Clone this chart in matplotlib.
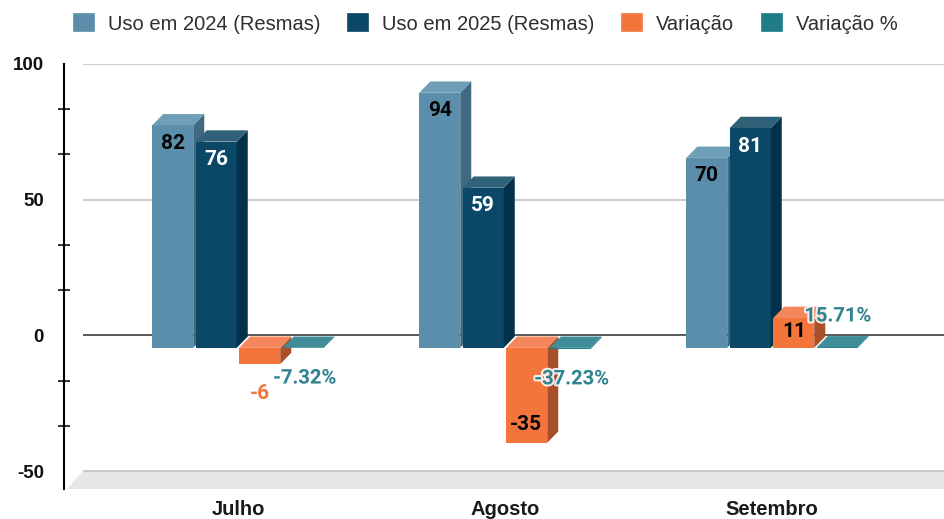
import matplotlib
matplotlib.use("Agg")
import matplotlib.pyplot as plt
from matplotlib.patches import Patch, Polygon
from matplotlib.ticker import FixedLocator
import matplotlib.patheffects as pe

# ---- data ----
months = ["Julho", "Agosto", "Setembro"]
uso_2024 = [82, 94, 70]
uso_2025 = [76, 59, 81]
variacao = [-6, -35, 11]
variacao_pct = [-7.32, -37.23, 15.71]
series_names = ["Uso em 2024 (Resmas)", "Uso em 2025 (Resmas)", "Variação", "Variação %"]
major_ticks = [-50, 0, 50, 100]
minor_ticks = [-33.33, -16.67, 16.67, 33.33, 66.67, 83.33]

# ---- layout / style ----
W, H = 944, 519
fig = plt.figure(figsize=(W / 100, H / 100), dpi=100, facecolor="white")
ax = fig.add_axes([64 / W, (H - 489) / H, (W - 64) / W, (489 - 64) / H])
PX_PER_CAT = 267.0
PX_PER_UNIT = 407 / 150
ax.set_xlim((64 - 238) / PX_PER_CAT, (944 - 238) / PX_PER_CAT)
ax.set_ylim(-50 - 18 / PX_PER_UNIT, 100)

WALL_X = (83 - 238) / PX_PER_CAT
DX = 11 / PX_PER_CAT
DY = 11.3 / PX_PER_UNIT
BASE = -12.5 / PX_PER_UNIT
BAR_W = 41 / PX_PER_CAT
STEP = 43.5 / PX_PER_CAT
XR = ax.get_xlim()[1]
YB = ax.get_ylim()[0]

front = ["#5a8eaa", "#0b4766", "#f4753c", "#1f7c88"]
side = ["#3f6a82", "#03304a", "#a9502a", "#2e7480"]
top = ["#6f9fb6", "#2f6279", "#f5855a", "#3f8d98"]

# floor and grid
ax.add_patch(Polygon([(XR, YB), ((67 - 238) / PX_PER_CAT, YB), (WALL_X, -50), (XR, -50)],
                     closed=True, fc="#e6e7e6", ec="none", zorder=1))
for g in [100, 50, -50]:
    ax.plot([WALL_X, XR], [g, g], color="#c3c3c1", lw=1.2, zorder=1.5, solid_capstyle="butt")
ax.plot([WALL_X, XR], [0, 0], color="#3b3f42", lw=1.2, zorder=1.5, solid_capstyle="butt")


def bar3d(x, v, s, z):
    x0, x1 = x - BAR_W / 2, x + BAR_W / 2
    t = max(BASE, BASE + v)
    b = min(BASE, BASE + v)
    ax.bar(x, t - b, width=BAR_W, bottom=b, color=front[s], lw=0, zorder=z)
    ax.add_patch(Polygon([(x1, b), (x1 + DX, b + DY), (x1 + DX, t + DY), (x1, t)],
                         closed=True, fc=side[s], ec="none", zorder=z))
    ax.add_patch(Polygon([(x0, t), (x1, t), (x1 + DX, t + DY), (x0 + DX, t + DY)],
                         closed=True, fc=top[s], ec="none", zorder=z))


all_series = [uso_2024, uso_2025, variacao, [p / 100 for p in variacao_pct]]
z = 2
for i in range(len(months)):
    for s, vals in enumerate(all_series):
        z += 0.01
        bar3d(i + (s - 1.5) * STEP, vals[i], s, z)


def label(i, s, v, text, color, dx, dy, fs=15, halo=False):
    y = BASE + v
    t = ax.annotate(text, xy=(i + (s - 1.5) * STEP, y), xytext=(dx * 0.72, dy * 0.72),
                    textcoords="offset points", ha="center", va="center", color=color,
                    fontsize=fs, fontweight="bold", family="Roboto", zorder=10)
    if halo:
        t.set_path_effects([pe.withStroke(linewidth=3, foreground="white", alpha=0.85)])


for i in range(3):
    label(i, 0, uso_2024[i], str(uso_2024[i]), "#050505", 0, -18)
    label(i, 1, uso_2025[i], str(uso_2025[i]), "#ffffff", 0, -18)

var_off = [(0.5, -29), (-1, 18.5), (0, -14)]
var_col = ["#f4753c", "#050505", "#050505"]
for i in range(3):
    label(i, 2, variacao[i], str(variacao[i]), var_col[i], *var_off[i])

pct_off = [(1.5, -30), (1.5, -30), (0.5, 31.5)]
for i in range(3):
    p = variacao_pct[i]
    label(i, 3, p / 100, f"{p:.2f}%", "#2f8290", *pct_off[i], fs=14.5, halo=True)

# axes
for k in ["top", "right", "bottom"]:
    ax.spines[k].set_visible(False)
ax.spines["left"].set_linewidth(1.5)
ax.spines["left"].set_color("#000000")
ax.set_xticks(range(3))
ax.set_xticklabels(months, fontsize=14.5, fontweight="bold", family="Liberation Sans", color="#1a1a1a")
ax.tick_params(axis="x", length=0, pad=8)
ax.set_yticks(major_ticks)
ax.set_yticklabels([str(t) for t in major_ticks], fontsize=13.5, fontweight="bold",
                   family="Liberation Sans", color="#111111")
ax.yaxis.set_minor_locator(FixedLocator(minor_ticks))
ax.tick_params(axis="y", which="major", length=0, pad=14.5)
ax.tick_params(axis="y", which="minor", direction="inout", length=8, width=1.1, color="#000000")

# legend
handles = [Patch(facecolor=c, edgecolor=c, linewidth=1.2, joinstyle="round") for c in
           ["#5a8eaa", "#0b4766", "#f4753c", "#1f7c88"]]
fs = 14.5
px = fs * 100 / 72
fig.legend(handles, series_names, ncol=4, frameon=False,
           prop={"family": "Liberation Sans", "size": fs},
           loc="upper left", bbox_to_anchor=(74 / W, 1 - 14 / H), borderpad=0, borderaxespad=0,
           handlelength=20 / px, handleheight=19 / px, handletextpad=14 / px,
           columnspacing=27.5 / px, labelcolor="#2b2f33")

fig.savefig("out.png", dpi=100)
